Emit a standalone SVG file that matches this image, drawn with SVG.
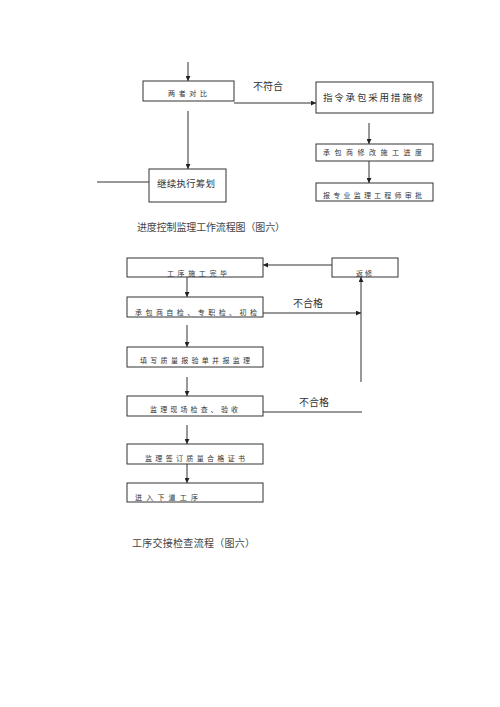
<svg xmlns="http://www.w3.org/2000/svg" width="500" height="707" viewBox="0 0 500 707">
<defs>
<marker id="ah" viewBox="0 0 10 10" refX="10" refY="5" markerWidth="5" markerHeight="5" orient="auto" markerUnits="userSpaceOnUse">
<path d="M0,0 L10,5 L0,10 z" fill="#222"/>
</marker>
<style>
.box{fill:#fff;stroke:#333;stroke-width:1}
.ln{fill:none;stroke:#333;stroke-width:1}
.arr{fill:none;stroke:#333;stroke-width:1;marker-end:url(#ah)}
.t{font-family:"Noto Sans CJK SC","Noto Sans",sans-serif;fill:#333}
.s{font-size:7px}
.m{font-size:9.5px}
.cap{font-family:"Noto Sans CJK SC","Noto Sans",sans-serif;font-size:10px;fill:#444}
</style>
</defs>
<rect width="500" height="707" fill="#fff"/>

<g id="connectors">
<line class="arr" x1="188" y1="62" x2="188" y2="81"/>
<line class="arr" x1="234" y1="103" x2="316" y2="103"/>
<line class="arr" x1="188" y1="111" x2="188" y2="169"/>
<line class="ln" x1="97" y1="182" x2="149" y2="182"/>
<line class="arr" x1="369" y1="123" x2="369" y2="144"/>
<line class="arr" x1="369" y1="161" x2="369" y2="183"/>

<line class="arr" x1="332" y1="265" x2="263" y2="265"/>
<line class="arr" x1="187" y1="277" x2="187" y2="297"/>
<line class="arr" x1="263" y1="313" x2="361" y2="313"/>
<line class="arr" x1="361" y1="382" x2="361" y2="277"/>
<line class="arr" x1="187" y1="325" x2="187" y2="347"/>
<line class="arr" x1="187" y1="377" x2="187" y2="396"/>
<line class="ln" x1="263" y1="412" x2="362" y2="412"/>
<line class="arr" x1="187" y1="425" x2="187" y2="444"/>
<line class="arr" x1="187" y1="464" x2="187" y2="483"/>
</g>

<g id="compare">
<rect class="box" x="143" y="81" width="91" height="20"/>
<text class="t s" x="168" y="95.5" textLength="39" lengthAdjust="spacing">两者对比</text>
</g>
<text id="label-nomatch" class="t" style="font-size:10px" x="253" y="90">不符合</text>
<g id="instruct">
<rect class="box" x="316" y="82" width="117" height="31"/>
<text class="t m" x="323" y="101" textLength="100" lengthAdjust="spacing">指令承包采用措施修</text>
</g>
<g id="modify">
<rect class="box" x="316" y="144" width="117" height="17"/>
<text class="t s" x="323" y="155" textLength="99" lengthAdjust="spacing">承包商修改施工进度</text>
</g>
<g id="report">
<rect class="box" x="316" y="183" width="117" height="18"/>
<text class="t s" x="323" y="197.5" textLength="99" lengthAdjust="spacing">报专业监理工程师审批</text>
</g>
<g id="continue">
<rect class="box" x="149" y="169" width="77" height="33"/>
<text class="t m" x="157" y="187" textLength="58" lengthAdjust="spacing">继续执行筹划</text>
</g>
<text id="caption1" class="cap" x="137" y="231" textLength="148" lengthAdjust="spacing">进度控制监理工作流程图（图六）</text>

<g id="finish">
<rect class="box" x="127" y="258" width="136" height="19"/>
<text class="t s" x="167" y="275.5" textLength="60" lengthAdjust="spacing">工序施工完毕</text>
</g>
<g id="rework">
<rect class="box" x="332" y="258" width="66" height="19"/>
<text class="t s" x="356" y="275.5" textLength="16" lengthAdjust="spacing">返修</text>
</g>
<g id="selfcheck">
<rect class="box" x="127" y="297" width="136" height="20"/>
<text class="t s" x="135" y="314.5" textLength="122" lengthAdjust="spacing">承包商自检、专职检、初检</text>
</g>
<text id="label-fail1" class="t" style="font-size:10px" x="293" y="307">不合格</text>
<g id="fillform">
<rect class="box" x="127" y="347" width="136" height="20"/>
<text class="t s" x="140" y="362.5" textLength="110" lengthAdjust="spacing">填写质量报验单并报监理</text>
</g>
<g id="inspect">
<rect class="box" x="127" y="396" width="136" height="20"/>
<text class="t s" x="150" y="412" textLength="88" lengthAdjust="spacing">监理现场检查、验收</text>
</g>
<text id="label-fail2" class="t" style="font-size:10px" x="299" y="406">不合格</text>
<g id="certificate">
<rect class="box" x="127" y="444" width="136" height="20"/>
<text class="t s" x="145" y="460.5" textLength="100" lengthAdjust="spacing">监理签订质量合格证书</text>
</g>
<g id="next">
<rect class="box" x="127" y="483" width="136" height="19"/>
<text class="t s" x="135" y="500" textLength="63" lengthAdjust="spacing">进入下道工序</text>
</g>
<text id="caption2" class="cap" x="132" y="547" textLength="123" lengthAdjust="spacing">工序交接检查流程（图六）</text>
</svg>
